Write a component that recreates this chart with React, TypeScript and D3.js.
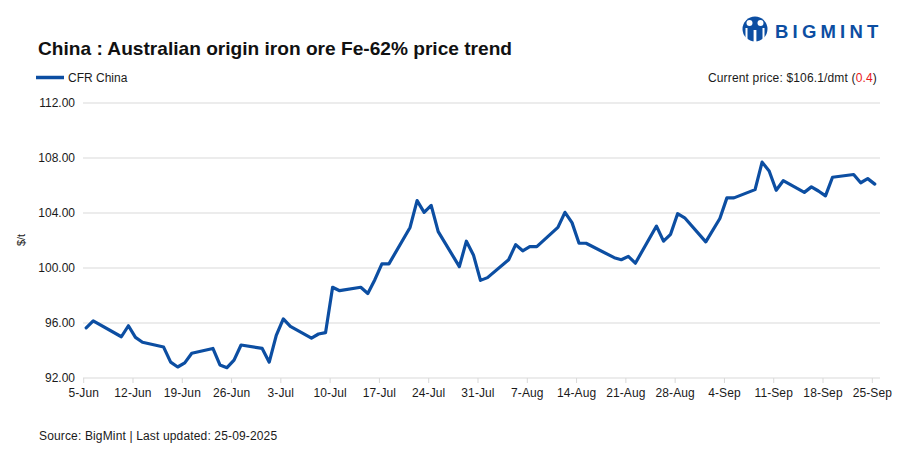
import React, { useEffect } from "react";
import * as d3 from "d3";

const dates: string[] = [
  "2025-06-05","2025-06-06","2025-06-10","2025-06-11","2025-06-12","2025-06-13",
  "2025-06-16","2025-06-17","2025-06-18","2025-06-19","2025-06-20",
  "2025-06-23","2025-06-24","2025-06-25","2025-06-26","2025-06-27",
  "2025-06-30","2025-07-01","2025-07-02","2025-07-03","2025-07-04",
  "2025-07-07","2025-07-08","2025-07-09","2025-07-10","2025-07-11",
  "2025-07-14","2025-07-15","2025-07-16","2025-07-17","2025-07-18",
  "2025-07-21","2025-07-22","2025-07-23","2025-07-24","2025-07-25",
  "2025-07-28","2025-07-29","2025-07-30","2025-07-31","2025-08-01",
  "2025-08-04","2025-08-05","2025-08-06","2025-08-07","2025-08-08",
  "2025-08-11","2025-08-12","2025-08-13","2025-08-14","2025-08-15",
  "2025-08-19","2025-08-20","2025-08-21","2025-08-22",
  "2025-08-25","2025-08-26","2025-08-27","2025-08-28","2025-08-29",
  "2025-09-01","2025-09-03","2025-09-04","2025-09-05",
  "2025-09-08","2025-09-09","2025-09-10","2025-09-11","2025-09-12",
  "2025-09-15","2025-09-16","2025-09-17","2025-09-18","2025-09-19",
  "2025-09-22","2025-09-23","2025-09-24","2025-09-25",
];

const cfrChina: number[] = [
  95.65, 96.15, 95.0, 95.8, 94.95, 94.6,
  94.25, 93.15, 92.8, 93.1, 93.8,
  94.15, 92.95, 92.75, 93.3, 94.4,
  94.15, 93.15, 95.1, 96.3, 95.75,
  94.9, 95.2, 95.3, 98.6, 98.35,
  98.6, 98.15, 99.15, 100.3, 100.3,
  102.95, 104.9, 104.05, 104.55, 102.65,
  100.1, 101.95, 100.95, 99.1, 99.3,
  100.6, 101.7, 101.25, 101.55, 101.55,
  102.95, 104.05, 103.3, 101.8, 101.8,
  100.75, 100.6, 100.85, 100.35,
  103.05, 101.95, 102.45, 103.95, 103.65,
  101.9, 103.6, 105.1, 105.1,
  105.7, 107.7, 107.05, 105.65, 106.35,
  105.5, 105.9, 105.6, 105.25, 106.6,
  106.8, 106.2, 106.5, 106.1,
];

const xTickDates: string[] = [
  "2025-06-05","2025-06-12","2025-06-19","2025-06-26","2025-07-03","2025-07-10",
  "2025-07-17","2025-07-24","2025-07-31","2025-08-07","2025-08-14","2025-08-21",
  "2025-08-28","2025-09-04","2025-09-11","2025-09-18","2025-09-25",
];
const yTicks: number[] = [92, 96, 100, 104, 108, 112];

const seriesName = "CFR China";
const title = "China : Australian origin iron ore Fe-62% price trend";
const currentPrice = "Current price: $106.1/dmt (";
const change = "0.4";
const source = "Source: BigMint | Last updated: 25-09-2025";

const BLUE = "#0c4ea2";
const TEXT = "#1a1a1a";
const GRID = "#d9d9d9";
const FONT = "'Liberation Sans', Arial, sans-serif";

export default function App() {
  useEffect(() => {
    document.body.style.margin = "0";
  }, []);

  const parse = d3.utcParse("%Y-%m-%d");
  const fmt = d3.utcFormat("%-d-%b");
  const x = d3
    .scaleUtc()
    .domain([parse("2025-06-05")!, parse("2025-09-25")!])
    .range([83.7, 872.3]);
  const y = d3.scaleLinear().domain([92, 112]).range([378, 103]);
  const plotLeft = 83;
  const plotRight = 880;
  const offsetMs = 0.35 * 86400000;

  const pts: [Date, number][] = dates.map((d, i) => [
    new Date(parse(d)!.getTime() + offsetMs),
    cfrChina[i],
  ]);
  const line = d3
    .line<[Date, number]>()
    .x((d) => x(d[0]))
    .y((d) => y(d[1]));

  return (
    <svg
      width={914}
      height={475}
      style={{ position: "absolute", left: 0, top: 0, background: "#fff" }}
      fontFamily={FONT}
    >
      <rect x={0} y={0} width={914} height={475} fill="#fff" />
      {/* Logo */}
      <g>
        <circle cx={755} cy={29} r={12.5} fill={BLUE} />
        <circle cx={749.5} cy={23} r={3} fill="#fff" />
        <circle cx={760.5} cy={23} r={3} fill="#fff" />
        <rect x={745.5} y={28} width={2} height={11} fill="#fff" />
        <rect x={762.5} y={28} width={2} height={11} fill="#fff" />
        <rect x={753.6} y={30} width={2.8} height={12} fill="#fff" />
        <text
          x={775}
          y={37.5}
          fontSize={18.5}
          fontWeight="bold"
          fill={BLUE}
          letterSpacing={4.2}
        >
          BIGMINT
        </text>
      </g>

      <text
        x={38}
        y={55}
        fontSize={19}
        fontWeight="bold"
        fill="#111"
        textLength={474}
        lengthAdjust="spacingAndGlyphs"
      >
        {title}
      </text>

      {/* Legend */}
      <line x1={36} y1={77.5} x2={64} y2={77.5} stroke={BLUE} strokeWidth={3.5} />
      <text x={68} y={82} fontSize={12} fill={TEXT}>
        {seriesName}
      </text>

      <text x={877} y={82} fontSize={12} fill={TEXT} textAnchor="end" letterSpacing={0.16}>
        {currentPrice}
        <tspan fill="#e8191c">{change}</tspan>
        <tspan>)</tspan>
      </text>

      {/* Grid & y axis */}
      {yTicks.map((t) => (
        <g key={t}>
          <line x1={plotLeft} x2={plotRight} y1={y(t)} y2={y(t)} stroke={GRID} strokeWidth={1} />
          <text x={75} y={y(t) + 4} fontSize={12} fill={TEXT} textAnchor="end">
            {t.toFixed(2)}
          </text>
        </g>
      ))}
      <text
        transform={`translate(25,240) rotate(-90)`}
        fontSize={11}
        fill={TEXT}
        textAnchor="middle"
      >
        $/t
      </text>

      {/* X axis */}
      {xTickDates.map((d) => {
        const xx = x(parse(d)!);
        return (
          <g key={d}>
            <line x1={xx} x2={xx} y1={378} y2={383} stroke={GRID} strokeWidth={1} />
            <text x={xx} y={397} fontSize={12} fill={TEXT} textAnchor="middle" letterSpacing={0.1}>
              {fmt(parse(d)!)}
            </text>
          </g>
        );
      })}

      <path
        d={line(pts) || ""}
        fill="none"
        stroke={BLUE}
        strokeWidth={3.2}
        strokeLinejoin="round"
        strokeLinecap="round"
      />

      <text x={39} y={440} fontSize={12} fill={TEXT} letterSpacing={0.15}>
        {source}
      </text>
    </svg>
  );
}
